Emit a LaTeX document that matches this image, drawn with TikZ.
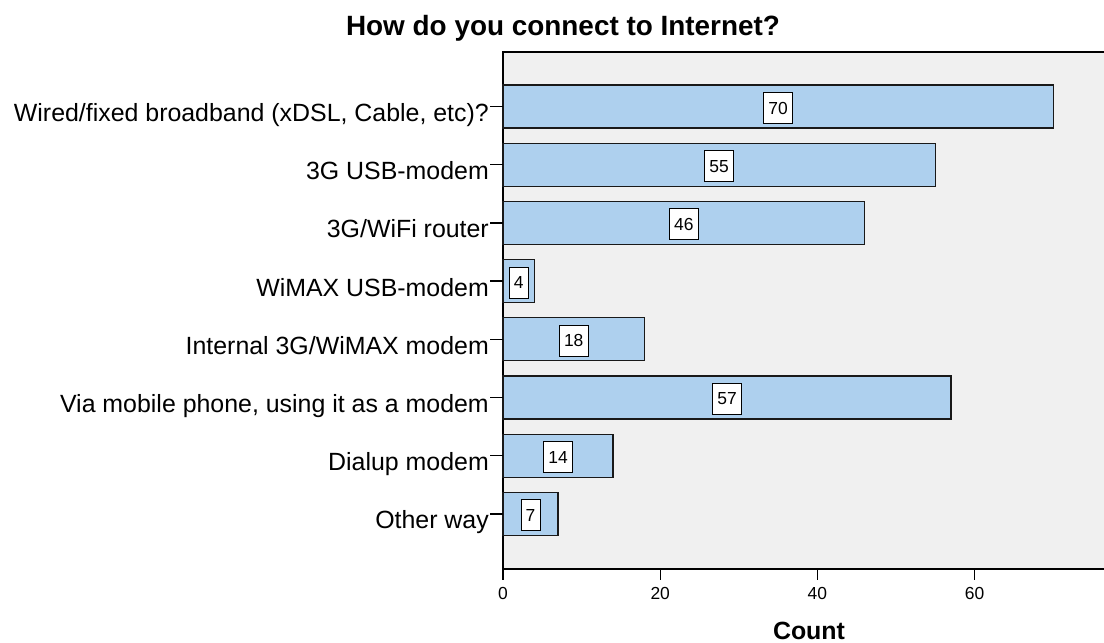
\documentclass[tikz,border=0pt]{standalone}
\usepackage{fontspec}
\setmainfont{Liberation Sans}
\definecolor{barfill}{RGB}{174,208,238}
\definecolor{plotbg}{RGB}{240,240,240}
\definecolor{edge}{RGB}{25,25,25}
\begin{document}
\begin{tikzpicture}[x=1bp,y=-1bp,
  barbox/.style={draw=edge,line width=1.3bp,fill=barfill},
  valbox/.style={draw=black,line width=1bp,fill=white,inner sep=0pt,minimum height=31bp,minimum width=29bp,font=\fontsize{17.5}{18}\selectfont},
  narrowbox/.style={minimum width=19bp},
  catlabel/.style={anchor=base east,inner sep=0pt,font=\fontsize{25}{26}\selectfont},
  ticklabel/.style={font=\fontsize{17.5}{18}\selectfont,inner sep=0pt},
  axisline/.style={line width=1.5bp,draw=black}]
\useasboundingbox (0,0) rectangle (1104,643);
\begin{scope}
\clip (0,0) rectangle (1104,643);
\fill[plotbg] (503,52) rectangle (1110,569);
\draw[axisline] (1110,52) -- (503,52) -- (503,569) -- (1110,569);
\end{scope}
\node[anchor=base,inner sep=0pt,font=\bfseries\fontsize{28}{29}\selectfont] (title) at (563,36) {How do you connect to Internet?};
\foreach \v/\lab [count=\i from 0] in {70/{Wired/fixed broadband (xDSL, Cable, etc)?},55/{3G USB-modem},46/{3G/WiFi router},4/{WiMAX USB-modem},18/{Internal 3G/WiMAX modem},57/{Via mobile phone, using it as a modem},14/{Dialup modem},7/{Other way}}{
  \pgfmathsetmacro{\yc}{106.5+58.2*\i}
  \pgfmathsetmacro{\xe}{503+7.86*\v}
  \pgfmathsetmacro{\xm}{503+3.93*\v}
  \draw[barbox] (503,\yc-21.5) rectangle (\xe,\yc+21.5);
  \ifnum\v<10
    \node[valbox,narrowbox] (v\i) at (\xm,\yc+1.5) {\v};
  \else
    \node[valbox] (v\i) at (\xm,\yc+1.5) {\v};
  \fi
  \coordinate (t\i) at (490,\yc);
  \coordinate (a\i) at (503,\yc);
  \draw[line width=1.3bp] (t\i) -- (a\i);
  \node[catlabel] (c\i) at (489,\yc+15) {\lab};
}
\foreach \t in {0,20,40,60}{
  \pgfmathsetmacro{\xt}{503+7.86*\t}
  \coordinate (k\t) at (\xt,569);
  \coordinate (kk\t) at (\xt,580);
  \draw[line width=1.3bp] (k\t) -- (kk\t);
  \node[ticklabel] (l\t) at (\xt,593.5) {\t};
}
\node[anchor=base,inner sep=0pt,font=\bfseries\fontsize{25}{26}\selectfont] (xlabel) at (809,639.5) {Count};
\end{tikzpicture}
\end{document}
